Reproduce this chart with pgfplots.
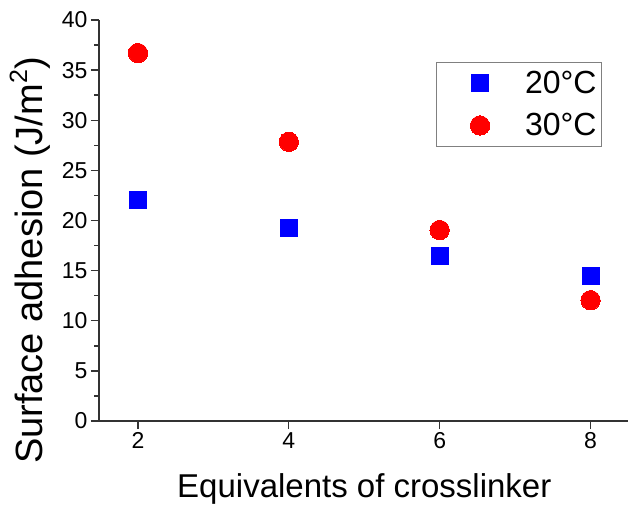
\documentclass[border=0pt]{standalone}
\usepackage{pgfplots}
\pgfplotsset{compat=1.18}
\usepackage{fontspec}
\setmainfont{Liberation Sans}
\definecolor{axisgray}{HTML}{333333}
\begin{document}
\begin{tikzpicture}
\begin{axis}[
  at={(99pt,83pt)}, anchor=south west,
  scale only axis, width=528.5pt, height=401pt,
  xmin=1.484, xmax=8.49, ymin=0, ymax=40,
  axis lines=left,
  axis line style={line width=1.6pt, color=axisgray, -},
  xtick={2,4,6,8}, ytick={0,5,...,40},
  minor y tick num=1,
  tick align=outside,
  major tick length=8pt, minor tick length=4.5pt,
  every tick/.style={line width=1.4pt, color=axisgray},
  tick label style={font=\fontsize{23}{27}\selectfont, text=black},
  /pgf/number format/assume math mode=true,
  xlabel={Equivalents of crosslinker},
  ylabel={Surface adhesion (J/m\raisebox{0.42em}{\fontsize{25}{30}\selectfont 2})},
  xlabel style={font=\fontsize{33}{38}\selectfont, at={(axis description cs:0.502,-0.192)}, anchor=base, inner sep=0pt},
  ylabel style={font=\fontsize{38}{44}\selectfont, at={(axis description cs:-0.106,0.400)}, anchor=base, inner sep=0pt},
  legend style={
    at={(axis description cs:0.6377,0.8953)}, anchor=north west,
    draw=gray, line width=1pt, inner xsep=1.5pt, inner ysep=0pt,
    font=\fontsize{32}{38}\selectfont,
    nodes={anchor=west, inner xsep=3pt, inner ysep=0pt},
    row sep=0pt, column sep=0pt,
  },
  legend image code/.code={%
    \path[draw=none, fill=none] (0pt,-21pt) rectangle (84pt,21pt);
    \draw[#1] plot coordinates {(42pt,0pt)};
  },
  clip=false,
]
\addplot[only marks, mark=square*, mark size=8.5pt, color=blue, mark options={draw=blue, fill=blue, line width=0pt}]
  coordinates {(2,22.0) (4,19.25) (6,16.5) (8,14.5)};
\addlegendentry{20°C}
\addplot[only marks, mark=*, mark size=9.7pt, color=red, mark options={draw=red, fill=red, line width=0pt}]
  coordinates {(2,36.7) (4,27.85) (6,19.05) (8,12.05)};
\addlegendentry{30°C}
\end{axis}
\pgfresetboundingbox
\path (0pt,0pt) rectangle (629pt,504pt);
\end{tikzpicture}
\end{document}
